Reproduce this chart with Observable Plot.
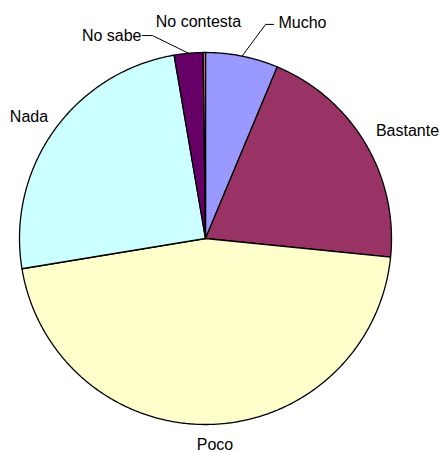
<!DOCTYPE html>
<html>
<head>
<meta charset="utf-8">
<script src="https://cdn.jsdelivr.net/npm/d3@7"></script>
<script src="https://cdn.jsdelivr.net/npm/@observablehq/plot@0.6"></script>
<style>
  html, body { margin: 0; padding: 0; background: #fff; }
  svg { display: block; overflow: visible; }
</style>
</head>
<body>
<div id="chart"></div>
<script>
// Data (percent)
const categories = ["Mucho", "Bastante", "Poco", "Nada", "No sabe", "No contesta"];
const values = [6.3, 20.3, 45.8, 24.9, 2.5, 0.2];
const colors = ["#9999FF", "#993366", "#FFFFCC", "#CCFFFF", "#660066", "#FF8080"];

// Label layout (data units of the unit-circle pie)
const labelLayout = [
  {cat: "Mucho",       x: 0.392,  y: 1.161, anchor: "start",  leader: [[0.323, 1.151], [0.366, 1.151]]},
  {cat: "Bastante",    x: 1.086,  y: 0.581, anchor: "middle", leader: null},
  {cat: "Poco",        x: 0.051,  y: -1.108, anchor: "middle", leader: null},
  {cat: "Nada",        x: -0.949, y: 0.656, anchor: "middle", leader: null},
  {cat: "No sabe",     x: -0.344, y: 1.091, anchor: "end",    leader: [[-0.285, 1.091], [-0.339, 1.091]]},
  {cat: "No contesta", x: -0.038, y: 1.167, anchor: "middle", leader: null}
];

const arcs = d3.pie().sort(null).value(d => d)(values);

// Slice polygons in data coordinates (angle clockwise from 12 o'clock)
const slicePts = [];
arcs.forEach((a, i) => {
  const cat = categories[i];
  slicePts.push({cat, x: 0, y: 0});
  const n = Math.max(2, Math.ceil((a.endAngle - a.startAngle) / (Math.PI / 360)));
  for (let k = 0; k <= n; k++) {
    const t = a.startAngle + (a.endAngle - a.startAngle) * k / n;
    slicePts.push({cat, x: Math.sin(t), y: Math.cos(t)});
  }
  slicePts.push({cat, x: 0, y: 0});
});

// Leader lines
const leaderPts = [];
labelLayout.forEach(l => {
  if (!l.leader) return;
  const i = categories.indexOf(l.cat);
  const mid = (arcs[i].startAngle + arcs[i].endAngle) / 2;
  leaderPts.push({cat: l.cat, x: Math.sin(mid), y: Math.cos(mid)});
  l.leader.forEach(p => leaderPts.push({cat: l.cat, x: p[0], y: p[1]}));
});

const groups = d3.group(labelLayout, d => d.anchor);

const marks = [
  Plot.line(slicePts, {x: "x", y: "y", z: "cat", fill: "cat", stroke: "black", strokeWidth: 1.3, strokeLinejoin: "round"}),
  Plot.line(leaderPts, {x: "x", y: "y", z: "cat", stroke: "black", strokeWidth: 1})
];
for (const [anchor, rows] of groups) {
  marks.push(Plot.text(rows, {x: "x", y: "y", text: "cat", textAnchor: anchor, fill: "black", fontSize: 16}));
}

const chart = Plot.plot({
  width: 443,
  height: 453,
  marginLeft: 19,
  marginRight: 52,
  marginTop: 52,
  marginBottom: 29,
  x: {domain: [-1, 1], axis: null},
  y: {domain: [-1, 1], axis: null},
  color: {domain: categories, range: colors},
  style: {fontFamily: "'Liberation Sans', Arial, sans-serif", fontSize: "16px", background: "white", overflow: "visible"},
  marks
});
document.getElementById("chart").appendChild(chart);
</script>
</body>
</html>
